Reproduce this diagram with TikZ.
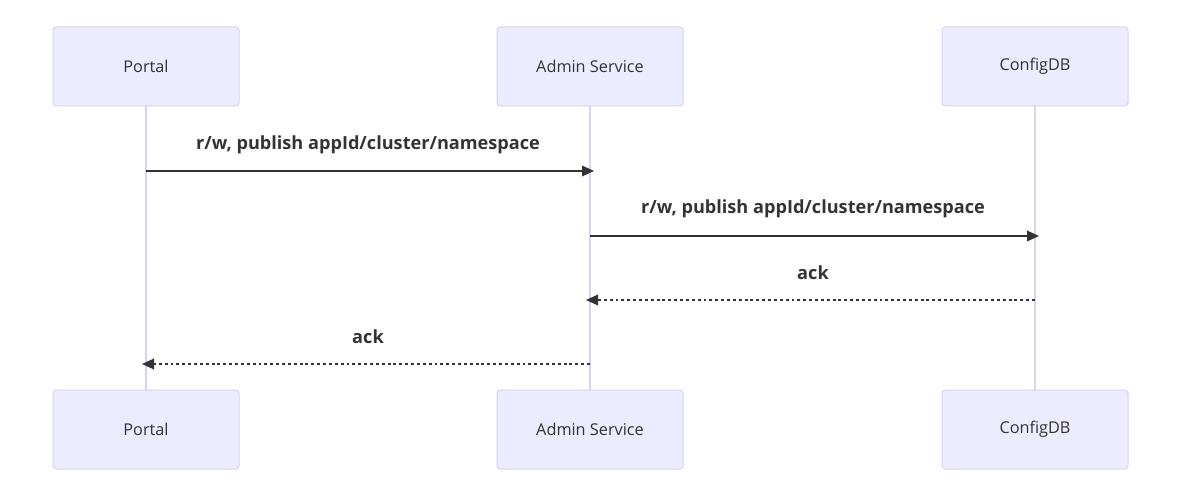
\documentclass[tikz,border=0pt]{standalone}
\usepackage{fontspec}
\setmainfont{Open Sans}
\usetikzlibrary{arrows.meta}
\definecolor{actfill}{HTML}{ECECFF}
\definecolor{actline}{HTML}{D9D0F2}
\definecolor{txt}{HTML}{333333}
\tikzset{
  actor/.style={draw=actline, fill=actfill, rounded corners=2.5pt, line width=0.75pt,
    minimum width=139.5pt, minimum height=59.25pt, inner sep=0pt, text=txt, font=\fontsize{12.2}{14}\selectfont},
  life/.style={draw=actline, line width=1.5pt},
  msg/.style={draw=txt, line width=1pt, -{Triangle[length=9pt,width=8pt]}},
  ret/.style={msg, dash pattern=on 2.2pt off 2.2pt},
  lbl/.style={text=txt, font=\fontsize{13.6}{15}\bfseries\selectfont, inner sep=0pt}
}
\begin{document}
\begin{tikzpicture}[x=0.75pt,y=-0.75pt]
\useasboundingbox (0,0) rectangle (1182,488);
\node[actor] (p1) at (146,66.5) {Portal};
\node[actor] (a1) at (590,66.5) {Admin Service};
\node[actor] (c1) at (1035,66.5) {ConfigDB};
\node[actor] (p2) at (146,429.5) {Portal};
\node[actor] (a2) at (590,429.5) {Admin Service};
\node[actor] (c2) at (1035,429.5) {ConfigDB};
\draw[life] (p1.south) -- (p2.north);
\draw[life] (a1.south) -- (a2.north);
\draw[life] (c1.south) -- (c2.north);
\coordinate (m1s) at (146,171); \coordinate (m1e) at (594,171);
\coordinate (m2s) at (590,236); \coordinate (m2e) at (1039,236);
\coordinate (m3s) at (1035,300); \coordinate (m3e) at (586,300);
\coordinate (m4s) at (590,364); \coordinate (m4e) at (142,364);
\draw[msg] (m1s) -- (m1e);
\draw[msg] (m2s) -- (m2e);
\draw[ret] (m3s) -- (m3e);
\draw[ret] (m4s) -- (m4e);
\node[lbl] (l1) at (368,145) {r/w, publish appId/cluster/namespace};
\node[lbl] (l2) at (813,209) {r/w, publish appId/cluster/namespace};
\node[lbl] (l3) at (813,273) {ack};
\node[lbl] (l4) at (368,337) {ack};
\end{tikzpicture}
\end{document}
